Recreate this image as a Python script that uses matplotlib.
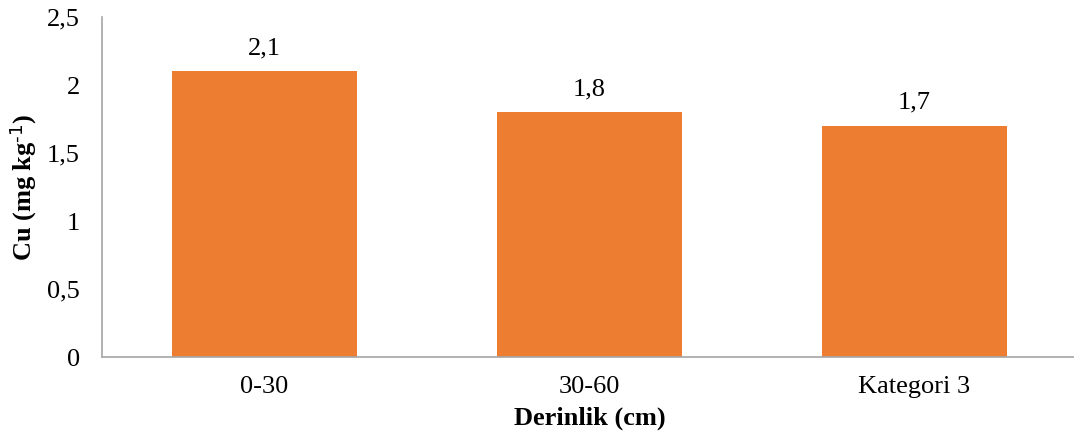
import matplotlib
matplotlib.use("Agg")
import matplotlib.pyplot as plt
from matplotlib.ticker import FuncFormatter

plt.rcParams['font.family'] = ['Liberation Serif', 'DejaVu Serif']
plt.rcParams['mathtext.default'] = 'regular'

# data
categories = ['0-30', '30-60', 'Kategori 3']
values = [2.1, 1.8, 1.7]
value_labels = ['2,1', '1,8', '1,7']
yticks = [0, 0.5, 1, 1.5, 2, 2.5]

fig = plt.figure(figsize=(10.74, 4.41), dpi=100)
ax = fig.add_axes([102 / 1074, 84 / 441, 975 / 1074, 340 / 441])

x = range(len(categories))
bars = ax.bar(x, values, width=0.57, color='#ED7D31', zorder=2)

for b, lab in zip(bars, value_labels):
    ax.text(b.get_x() + b.get_width() / 2, b.get_height() + 0.09, lab,
            ha='center', va='bottom', fontsize=19, color='#000000')

ax.set_xlim(-0.5, len(categories) - 0.5)
ax.set_ylim(0, 2.5)
ax.set_yticks(yticks)
ax.yaxis.set_major_formatter(FuncFormatter(lambda v, p: ('%g' % v).replace('.', ',')))
ax.set_xticks(list(x))
ax.set_xticklabels(categories)
ax.tick_params(axis='both', length=0, labelsize=19, colors='#000000')
ax.tick_params(axis='x', pad=14)
ax.tick_params(axis='y', pad=16)

for s in ['top', 'right']:
    ax.spines[s].set_visible(False)
for s in ['left', 'bottom']:
    ax.spines[s].set_color('#A6A6A6')
    ax.spines[s].set_linewidth(1.2)

ax.set_xlabel('Derinlik (cm)', fontsize=19, fontweight='bold', labelpad=6)
ax.set_ylabel(r'Cu (mg kg$^{\text{-1}}$)', fontsize=19, fontweight='bold', labelpad=6)

fig.savefig('out.png', dpi=100)
